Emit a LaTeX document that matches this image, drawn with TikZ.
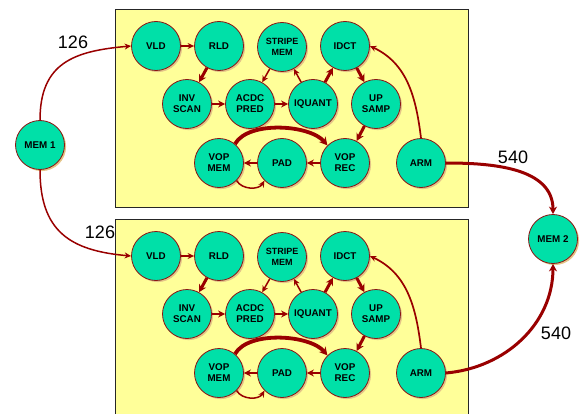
\documentclass[tikz,border=0pt]{standalone}
\usepackage{fontspec}
\setmainfont{Liberation Sans}
\usetikzlibrary{arrows.meta,shadows}
\definecolor{nodefill}{RGB}{0,224,168}
\definecolor{nodeline}{RGB}{140,20,20}
\definecolor{arr}{RGB}{153,0,0}
\definecolor{boxfill}{RGB}{255,255,153}
\definecolor{shadowcol}{RGB}{228,196,136}
\begin{document}
\begin{tikzpicture}[x=1pt,y=1pt,
  blk/.style={circle,minimum size=49pt,inner sep=0pt,fill=nodefill,draw=nodeline,line width=0.8pt,
    font=\bfseries\fontsize{9.8}{11}\selectfont,align=center,
    drop shadow={shadow xshift=1.6pt,shadow yshift=-1.6pt,fill=shadowcol,opacity=1}},
  small/.style={font=\bfseries\fontsize{9}{10.5}\selectfont},
  a1/.style={draw=arr,line width=1.5pt,-{Stealth[length=6.5pt,width=6pt]}},
  a2/.style={draw=arr,line width=2.2pt,-{Stealth[length=7pt,width=7pt]}},
  a3/.style={draw=arr,line width=3pt,-{Stealth[length=7.5pt,width=8pt]}},
  a4/.style={draw=arr,line width=3.8pt,-{Stealth[length=8pt,width=8.5pt]}},
  lbl/.style={font=\fontsize{18}{20}\selectfont,inner sep=0pt}
]
\useasboundingbox (0,0) rectangle (580,413);
\clip (0,0) rectangle (580,413);
\foreach \s/\dy in {a/0,b/210}{
\begin{scope}[yshift=-\dy pt]
  \draw[fill=boxfill,draw=black!85,line width=0.9pt] (115,206) rectangle (468,404);
  \node[blk] (vld\s) at (156,367) {VLD};
  \node[blk] (rld\s) at (219,367) {RLD};
  \node[blk,small] (stripe\s) at (282,366) {STRIPE\\MEM};
  \node[blk] (idct\s) at (345,367) {IDCT};
  \node[blk] (inv\s) at (187,309) {INV\\SCAN};
  \node[blk] (acdc\s) at (250,309) {ACDC\\PRED};
  \node[blk] (iquant\s) at (313,309) {IQUANT};
  \node[blk] (up\s) at (376,309) {UP\\SAMP};
  \node[blk] (vopmem\s) at (219,250) {VOP\\MEM};
  \node[blk] (pad\s) at (282,250) {PAD};
  \node[blk] (voprec\s) at (345,250) {VOP\\REC};
  \node[blk] (arm\s) at (421,250) {ARM};
  \draw[a1] (vld\s) -- (rld\s);
  \draw[a3] (rld\s) -- (inv\s);
  \draw[a1] (stripe\s) -- (acdc\s);
  \draw[a1] (iquant\s) -- (stripe\s);
  \draw[a2] (inv\s) -- (acdc\s);
  \draw[a2] (acdc\s) -- (iquant\s);
  \draw[a3] (iquant\s) -- (idct\s);
  \draw[a3] (idct\s) -- (up\s);
  \draw[a3] (up\s) -- (voprec\s);
  \draw[a2] (voprec\s) -- (pad\s);
  \draw[a2] (pad\s) -- (vopmem\s);
  \draw[a4] (vopmem\s.50) to[out=60,in=130,looseness=0.75] (voprec\s.135);
  \draw[a1] (vopmem\s.-45) to[out=-60,in=-120] (pad\s.225);
  \draw[a1,line width=1.7pt] (arm\s.north) to[out=97,in=-25] (idct\s.east);
\end{scope}
}
\node[blk] (mem1) at (40,268) {MEM 1};
\node[blk] (mem2) at (553,174) {MEM 2};
\draw[a1] (mem1.north) to[out=90,in=185,looseness=1.25] (vlda.west);
\draw[a1] (mem1.south) to[out=-90,in=175,looseness=1.25] (vldb.west);
\draw[a3] (arma.east) to[out=0,in=90] (mem2.north);
\draw[a3] (armb.east) to[out=5,in=-90] (mem2.south);
\node[lbl] (l1) at (73,371) {126};
\node[lbl] (l2) at (100,181) {126};
\node[lbl] (l3) at (513,256) {540};
\node[lbl] (l4) at (556,80) {540};
\end{tikzpicture}
\end{document}
